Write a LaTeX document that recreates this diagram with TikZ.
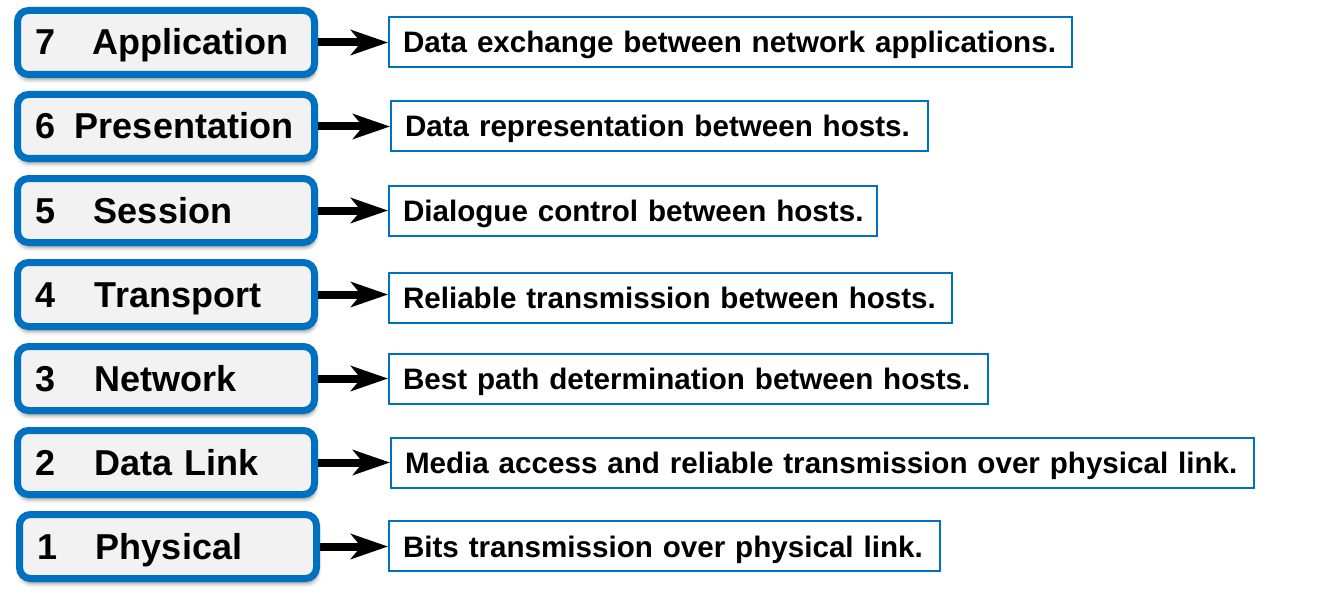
\documentclass[tikz,border=0pt]{standalone}
\usepackage{fontspec}
\setmainfont{Liberation Sans}
\usetikzlibrary{arrows.meta,shadows.blur}
\definecolor{osiblue}{HTML}{0070C0}
\definecolor{osifill}{HTML}{F2F2F2}
\newcommand{\lnum}[2]{\makebox[#2pt][l]{#1}}
\begin{document}
\begin{tikzpicture}[x=1pt,y=-1pt,
 layer/.style={draw=osiblue, line width=7pt, fill=osifill, rounded corners=11pt, anchor=west,
   minimum width=297pt, minimum height=64pt, text width=262pt, inner xsep=17.5pt, inner ysep=0pt,
   align=left, font=\fontsize{36}{40}\selectfont\bfseries, text height=31pt, text depth=6pt,
   blur shadow={shadow xshift=1pt, shadow yshift=-5pt, shadow opacity=45, shadow blur radius=4pt}},
 desc/.style={draw=osiblue, line width=2pt, fill=white, anchor=west, minimum height=50pt,
   text width=#1, inner xsep=14pt, inner ysep=0pt, align=left,
   font=\fontsize{29.6}{34}\selectfont\bfseries, text height=26pt, text depth=4pt},
 link/.style={line width=8pt, -{Stealth[length=37pt,width=25pt,inset=10pt]}}]
\useasboundingbox (0,0) rectangle (1333,607);

\node[layer] (L7) at (14,42.5) {\lnum{7}{58}Application};
\node[layer] (L6) at (14,126.5) {\lnum{6}{40}Presentation};
\node[layer] (L5) at (14,210.5) {\lnum{5}{59}Session};
\node[layer] (L4) at (14,294.5) {\lnum{4}{60}Transport};
\node[layer] (L3) at (14,378.5) {\lnum{3}{60}Network};
\node[layer] (L2) at (14,462.5) {\lnum{2}{60}Data Link};
\node[layer] (L1) at (16,546.5) {\lnum{1}{59}Physical};

\node[desc=655pt] (R7) at (388,42) {\mbox{Data exchange between network applications.}};
\node[desc=509pt] (R6) at (390,126) {\mbox{Data representation between hosts.}};
\node[desc=460pt] (R5) at (388,210.5) {\mbox{Dialogue control between hosts.}};
\node[desc=535pt] (R4) at (388,297.5) {\mbox{Reliable transmission between hosts.}};
\node[desc=571pt] (R3) at (388,378.5) {\mbox{Best path determination between hosts.}};
\node[desc=835pt] (R2) at (390,462.5) {\mbox{Media access and reliable transmission over physical link.}};
\node[desc=523pt] (R1) at (388,546) {\mbox{Bits transmission over physical link.}};

\foreach \i in {1,...,7} {
  \draw[link] (L\i.east) -- (L\i.east -| R\i.west);
}
\end{tikzpicture}
\end{document}
